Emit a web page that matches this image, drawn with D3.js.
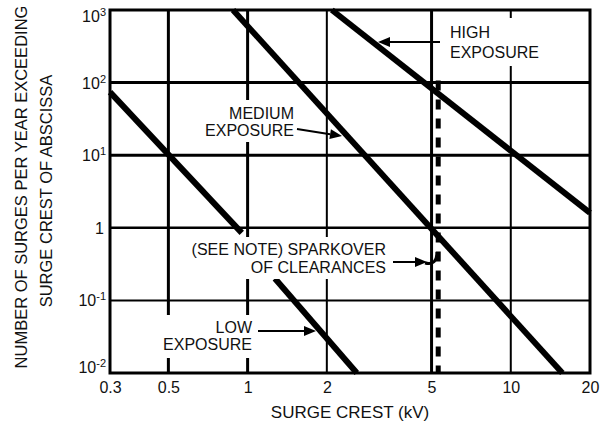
<!DOCTYPE html>
<html>
<head>
<meta charset="utf-8">
<script src="https://cdn.jsdelivr.net/npm/d3@7"></script>
<style>
  html, body { margin: 0; padding: 0; background: #fff; }
  svg { display: block; font-family: "Liberation Sans", Arial, sans-serif; }
</style>
</head>
<body>
<svg id="chart" width="600" height="423"></svg>
<script>
// ---- data ----
const xTicks = [0.3, 0.5, 1, 2, 5, 10, 20];
const xTickLabels = ["0.3", "0.5", "1", "2", "5", "10", "20"];
const yTicks = [0.01, 0.1, 1, 10, 100, 1000];
const yTickBase = ["10", "10", "1", "10", "10", "10"];
const yTickExp = ["-2", "-1", "", "1", "2", "3"];
const xGridValues = [0.5, 1, 2, 5, 10];
const yGridValues = [0.1, 1, 10, 100];

const highX = [2.09, 20];
const highY = [1000, 1.6];
const mediumX = [0.88, 15.7];
const mediumY = [1000, 0.01];
const lowAX = [0.3, 0.95];
const lowAY = [74, 0.85];
const lowBX = [1.27, 2.6];
const lowBY = [0.2, 0.01];
const sparkoverX = 5.3;
const sparkoverY = [100, 0.01];

const xTitle = "SURGE CREST (kV)";
const yTitle1 = "NUMBER OF SURGES PER YEAR EXCEEDING";
const yTitle2 = "SURGE CREST OF ABSCISSA";

// ---- layout ----
const svg = d3.select("#chart");
const L = 110, R = 590, T = 10, B = 373;
const x = d3.scaleLog().domain([0.3, 20]).range([L, R]);
const y = d3.scaleLog().domain([0.01, 1000]).range([B, T]);
const ink = "#111";

const heavyX = new Set([0.5, 1, 5]);
const heavyY = new Set([10, 100]);

// grid
svg.append("g").selectAll("line").data(xGridValues).join("line")
  .attr("x1", d => x(d)).attr("x2", d => x(d))
  .attr("y1", T).attr("y2", B)
  .attr("stroke", "#000")
  .attr("stroke-width", d => heavyX.has(d) ? 3 : 2);
svg.append("g").selectAll("line").data(yGridValues).join("line")
  .attr("x1", L).attr("x2", R)
  .attr("y1", d => y(d)).attr("y2", d => y(d))
  .attr("stroke", "#000")
  .attr("stroke-width", d => heavyY.has(d) ? 3 : (d === 1 ? 2.5 : 2));

// frame
svg.append("rect").attr("x", L).attr("y", T).attr("width", R - L).attr("height", B - T)
  .attr("fill", "none").attr("stroke", "#000").attr("stroke-width", 3);

// curves
const line = d3.line().x(d => x(d[0])).y(d => y(d[1]));
function curve(xs, ys) {
  svg.append("path").datum(xs.map((v, i) => [v, ys[i]]))
    .attr("d", line).attr("fill", "none")
    .attr("stroke", "#000").attr("stroke-width", 6);
}
curve(highX, highY);
curve(mediumX, mediumY);
curve(lowAX, lowAY);
curve(lowBX, lowBY);

// sparkover dashed line
svg.append("line")
  .attr("x1", x(sparkoverX)).attr("x2", x(sparkoverX))
  .attr("y1", y(sparkoverY[0]) - 2).attr("y2", y(sparkoverY[1]))
  .attr("stroke", "#000").attr("stroke-width", 5)
  .attr("stroke-dasharray", "10,9");

// labels with knockouts
function label(lines, anchor, ax, baselines, box) {
  svg.append("rect").attr("x", box[0]).attr("y", box[1])
    .attr("width", box[2] - box[0]).attr("height", box[3] - box[1])
    .attr("fill", "#fff");
  lines.forEach((t, i) => {
    svg.append("text").attr("x", ax).attr("y", baselines[i])
      .attr("text-anchor", anchor).attr("font-size", 16).attr("fill", ink)
      .text(t);
  });
}
label(["HIGH", "EXPOSURE"], "start", 450, [38, 58], [443, 18, 550, 66]);
label(["MEDIUM", "EXPOSURE"], "end", 294, [119, 136], [197, 100, 299, 142]);
label(["(SEE NOTE) SPARKOVER", "OF CLEARANCES"], "end", 386, [255, 273], [184, 237, 391, 279]);
label(["LOW", "EXPOSURE"], "end", 252, [333, 350], [155, 315, 257, 358]);

// arrows
function arrow(x0, y0, x1, y1) {
  const ang = Math.atan2(y1 - y0, x1 - x0);
  const len = 12, hw = 5;
  const bx = x1 - len * Math.cos(ang), by = y1 - len * Math.sin(ang);
  svg.append("line").attr("x1", x0).attr("y1", y0).attr("x2", bx).attr("y2", by)
    .attr("stroke", "#000").attr("stroke-width", 2);
  const px = -Math.sin(ang) * hw, py = Math.cos(ang) * hw;
  svg.append("path")
    .attr("d", `M${x1},${y1}L${bx + px},${by + py}L${bx - px},${by - py}Z`)
    .attr("fill", "#000");
}
arrow(440, 42, 378, 42);
arrow(297, 129, 342, 136);
arrow(393, 262, 427, 262);
svg.append("path").attr("d", "M425,263 Q437,266 437,252")
  .attr("fill", "none").attr("stroke", "#000").attr("stroke-width", 3);
arrow(258, 331, 316, 331);

// x axis labels
const xAxis = d3.axisBottom(x).tickValues(xTicks)
  .tickFormat((d, i) => xTickLabels[i]).tickSize(0).tickPadding(9);
const gx = svg.append("g").attr("transform", `translate(0,${B})`).call(xAxis);
gx.select(".domain").remove();
gx.selectAll("text").attr("font-size", 16).attr("fill", ink)
  .attr("font-family", "Liberation Sans, Arial, sans-serif");

// y axis labels with superscripts
const gy = svg.append("g");
yTicks.forEach((v, i) => {
  let by = y(v) + 6;
  by = Math.max(by, T + 12);
  by = Math.min(by, B);
  const t = gy.append("text").attr("x", yTickExp[i] ? 106 : 104).attr("y", by)
    .attr("text-anchor", "end").attr("font-size", 16).attr("fill", ink);
  t.append("tspan").text(yTickBase[i]);
  if (yTickExp[i]) {
    t.append("tspan").attr("dy", -6).attr("font-size", 11).text(yTickExp[i]);
  }
});

// titles
svg.append("text").attr("x", 350).attr("y", 418).attr("text-anchor", "middle")
  .attr("font-size", 17).attr("fill", ink).text(xTitle);
svg.append("text").attr("transform", "translate(27,187) rotate(-90)")
  .attr("text-anchor", "middle").attr("font-size", 16.5).attr("fill", ink).text(yTitle1);
svg.append("text").attr("transform", "translate(52,191) rotate(-90)")
  .attr("text-anchor", "middle").attr("font-size", 16.5).attr("fill", ink).text(yTitle2);
</script>
</body>
</html>
